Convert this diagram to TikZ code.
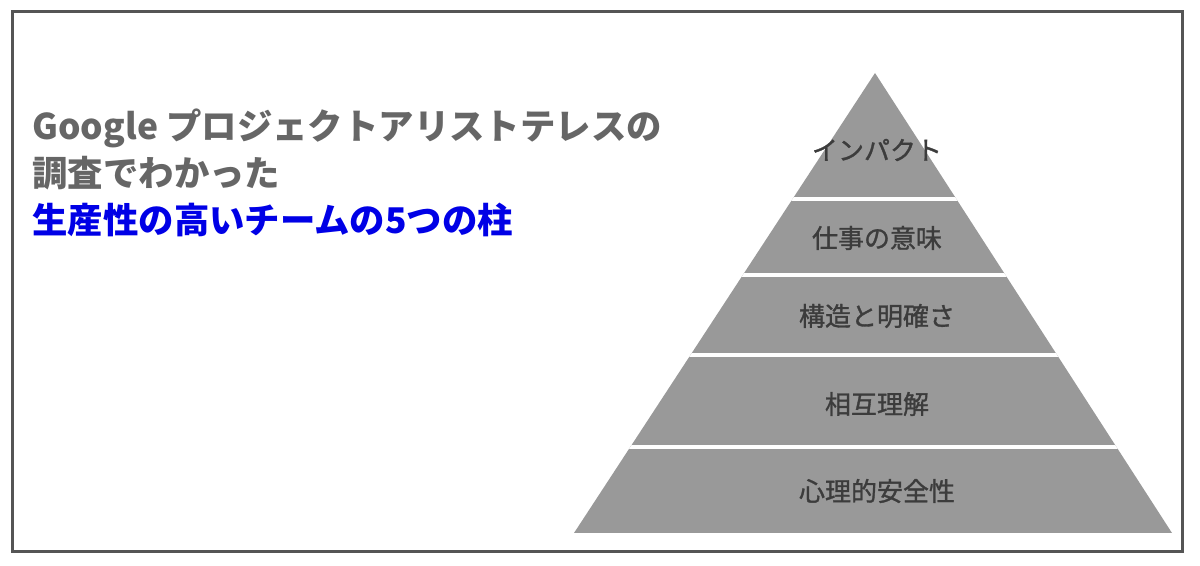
\documentclass[tikz,border=0pt]{standalone}
\usepackage{fontspec}
\setmainfont{Noto Sans CJK JP}
\newfontfamily\capafont{Noto Sans CJK JP}[FakeBold=1.2]
\usetikzlibrary{positioning}
\definecolor{framegray}{RGB}{85,85,85}
\definecolor{pyrgray}{RGB}{153,153,153}
\definecolor{labelgray}{RGB}{60,60,60}
\definecolor{titlegray}{RGB}{102,102,102}
\definecolor{titleblue}{RGB}{0,0,230}
\tikzset{marco/.style={draw=framegray, line width=1.5pt}}
\tikzset{capa/.style={draw=none, fill=none, text=labelgray, font=\capafont\fontsize{13}{15}\selectfont}}
\tikzset{titulo/.style={anchor=west, inner sep=0pt, font=\fontsize{17.7}{20}\selectfont\bfseries}}
\tikzset{corte/.style={draw=white, line width=2pt}}

\begin{document}
\begin{tikzpicture}[x=0.5pt, y=-0.5pt]
            \useasboundingbox (0,0) rectangle (1200,566);
            \draw[marco] (12,12) rectangle (1182,552);

            \node[titulo, text=titlegray] (t1) at (32,128) {Google プロジェクトアリストテレスの};
            \node[titulo, text=titlegray] (t2) at (32,173) {調査でわかった};
            \node[titulo, text=titleblue] (t3) at (32,220) {生産性の高いチームの5つの柱};

            \coordinate (apex) at (875,73);
            \coordinate (bl) at (574,533);
            \coordinate (br) at (1172,533);
            \fill[pyrgray] (apex) -- (br) -- (bl) -- cycle;
            \begin{scope}
                \clip (apex) -- (br) -- (bl) -- cycle;
                \foreach \y in {199,275,355,447}
                    \draw[corte] (560,\y) -- (1190,\y);
            \end{scope}

            \node[capa] (impacto)   at (877,150) {インパクト};
            \node[capa] (sentido)   at (877,238) {仕事の意味};
            \node[capa] (estruct)   at (877,316) {構造と明確さ};
            \node[capa] (mutuo)     at (877,404) {相互理解};
            \node[capa] (seguridad) at (877,491) {心理的安全性};
        \end{tikzpicture}
\end{document}
